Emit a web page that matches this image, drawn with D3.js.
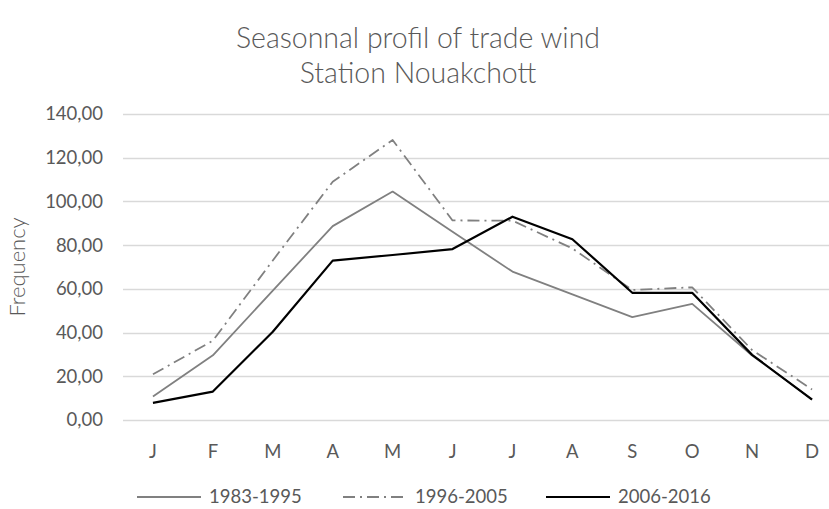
<!DOCTYPE html>
<html>
<head>
<meta charset="utf-8">
<script src="https://cdn.jsdelivr.net/npm/d3@7"></script>
<style>
  body { margin: 0; background: #fff; }
  svg { display: block; font-family: Lato, "Open Sans", sans-serif; }
</style>
</head>
<body>
<svg width="829" height="509"></svg>
<script>
// data
var months = ["J", "F", "M", "A", "M", "J", "J", "A", "S", "O", "N", "D"];
var yTicks = [0, 20, 40, 60, 80, 100, 120, 140];
var s1983 = [10.7, 29.6, 59.2, 88.7, 104.5, 86.1, 67.9, 57.5, 47.1, 53.1, 29.5, 9.5];
var s1996 = [20.9, 36.3, 73.0, 109.0, 128.1, 91.3, 91.2, 78.5, 59.5, 60.7, 32.0, 14.0];
var s2006 = [7.8, 13.0, 40.4, 72.9, 75.5, 78.2, 93.0, 82.7, 58.2, 58.2, 29.8, 9.3];
var seriesNames = ["1983-1995", "1996-2005", "2006-2016"];

function graficar() {
  var svg = d3.select("svg"),
      margin = {top: 114, left: 123},
      width = 719,
      height = 306,
      g = svg.append("g").attr("transform", "translate(" + margin.left + "," + margin.top + ")");

  var x = d3.scaleBand()
      .domain(d3.range(months.length))
      .range([0, width]);

  var y = d3.scaleLinear()
      .domain([0, 140])
      .range([height, 0]);

  var fmt = function(v) { return d3.format(".2f")(v).replace(".", ","); };

  // grid
  g.append("g")
    .selectAll("line")
    .data(yTicks)
    .enter().append("line")
      .attr("x1", 0)
      .attr("x2", width)
      .attr("y1", function(d) { return Math.round(y(d)) + 0.5; })
      .attr("y2", function(d) { return Math.round(y(d)) + 0.5; })
      .attr("stroke", "#d9d9d9")
      .attr("stroke-width", 1.3);

  // y labels
  g.append("g")
    .selectAll("text")
    .data(yTicks)
    .enter().append("text")
      .attr("x", -20)
      .attr("y", function(d) { return y(d); })
      .attr("dy", "0.35em")
      .attr("text-anchor", "end")
      .attr("fill", "#595959")
      .style("font-size", "18.5px")
      .text(fmt);

  // x labels
  g.append("g")
    .selectAll("text")
    .data(months)
    .enter().append("text")
      .attr("x", function(d, i) { return x(i) + x.bandwidth() / 2; })
      .attr("y", height + 32)
      .attr("dy", "0.35em")
      .attr("text-anchor", "middle")
      .attr("fill", "#595959")
      .style("font-size", "18.5px")
      .text(function(d) { return d; });

  var line = d3.line()
      .x(function(d, i) { return x(i) + x.bandwidth() / 2; })
      .y(function(d) { return y(d); });

  var styles = [
    {data: s1983, color: "#808080", w: 1.8, dash: null},
    {data: s1996, color: "#808080", w: 1.8, dash: "12,5,2,5"},
    {data: s2006, color: "#000000", w: 2.2, dash: null}
  ];

  styles.forEach(function(s) {
    g.append("path")
      .datum(s.data)
      .attr("fill", "none")
      .attr("stroke", s.color)
      .attr("stroke-width", s.w)
      .attr("stroke-dasharray", s.dash)
      .attr("stroke-linejoin", "round")
      .attr("d", line);
  });

  // title
  var title = svg.append("text")
    .attr("x", 418)
    .attr("text-anchor", "middle")
    .attr("fill", "#595959")
    .style("font-size", "28.5px")
    .style("font-weight", 300);
  title.append("tspan").attr("x", 418).attr("y", 48).text("Seasonnal profil of trade wind");
  title.append("tspan").attr("x", 418).attr("y", 83).text("Station Nouakchott");

  // y axis title
  svg.append("text")
    .attr("transform", "translate(25," + (margin.top + height / 2) + ") rotate(-90)")
    .attr("text-anchor", "middle")
    .attr("fill", "#595959")
    .style("font-size", "22px")
    .style("font-weight", 300)
    .text("Frequency");

  // legend
  var legX = [137, 343, 546];
  var legend = svg.append("g").selectAll("g")
    .data(styles)
    .enter().append("g")
      .attr("transform", function(d, i) { return "translate(" + legX[i] + ",497)"; });

  legend.append("line")
    .attr("x1", 0)
    .attr("x2", 64)
    .attr("stroke", function(d) { return d.color; })
    .attr("stroke-width", function(d) { return d.w; })
    .attr("stroke-dasharray", function(d) { return d.dash; });

  legend.append("text")
    .attr("x", 72)
    .attr("dy", "0.35em")
    .attr("fill", "#595959")
    .style("font-size", "18.5px")
    .text(function(d, i) { return seriesNames[i]; });
}

graficar();
</script>
</body>
</html>
